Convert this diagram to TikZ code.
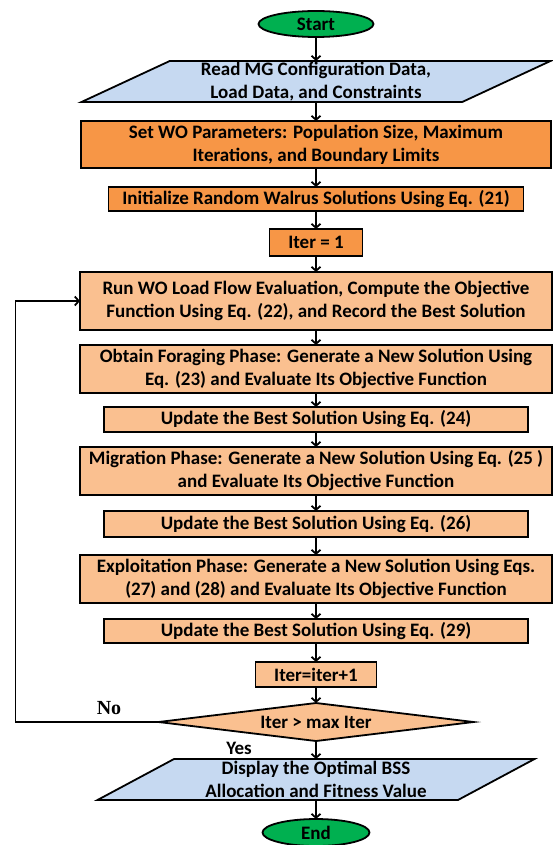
\documentclass[tikz,border=0pt]{standalone}
\usepackage{fontspec}
\setmainfont{Carlito}
\newfontfamily\labelserif{Liberation Serif}
\usetikzlibrary{arrows.meta,positioning,shapes.geometric}
\definecolor{termgreen}{HTML}{00B050}
\definecolor{ioblue}{HTML}{C6D9F1}
\definecolor{deeporange}{HTML}{F79646}
\definecolor{paleorange}{HTML}{FAC090}

\begin{document}
\begin{tikzpicture}[x=1pt, y=1pt, line width=1.8pt,
  every node/.style={font=\fontsize{19}{23}\selectfont\bfseries, outer sep=0pt},
  term/.style={draw, ellipse, fill=termgreen, inner sep=0pt},
  io/.style={draw, trapezium, trapezium stretches body=true, fill=ioblue, align=center, inner sep=0pt},
  proc/.style={draw, rectangle, fill=paleorange, align=center, inner sep=0pt},
  setup/.style={proc, fill=deeporange},
  arrow/.style={-{Straight Barb[length=4pt,width=9pt]}}]
  \useasboundingbox (0,0) rectangle (553,-845);

  \node[term, minimum width=115, minimum height=26] (start) at (316,-24) {Start};
  \node[io, trapezium left angle=23.8, trapezium right angle=156.2, minimum width=469, minimum height=41, below=24pt of start] (read) {Read MG Configuration Data,\\Load Data, and Constraints};
  \node[setup, minimum width=470, minimum height=47, below=19pt of read] (setwo) {Set WO Parameters: Population Size, Maximum\\Iterations, and Boundary Limits};
  \node[setup, minimum width=415, minimum height=24, below=19pt of setwo] (init) {Initialize Random Walrus Solutions Using Eq. (21)};
  \node[setup, minimum width=93, minimum height=27, below=18pt of init] (iterone) {Iter = 1};
  \node[proc, minimum width=472, minimum height=58, below=16pt of iterone] (run) {Run WO Load Flow Evaluation, Compute the Objective\\Function Using Eq. (22), and Record the Best Solution};
  \node[proc, minimum width=472, minimum height=48, below=15pt of run] (forage) {Obtain Foraging Phase: Generate a New Solution Using\\Eq. (23) and Evaluate Its Objective Function};
  \node[proc, minimum width=424, minimum height=25, below=14pt of forage] (bestA) {Update the Best Solution Using Eq. (24)};
  \node[proc, minimum width=472, minimum height=48, below=15pt of bestA] (migrate) {Migration Phase: Generate a New Solution Using Eq. (25 )\\and Evaluate Its Objective Function};
  \node[proc, minimum width=424, minimum height=26, below=16pt of migrate] (bestB) {Update the Best Solution Using Eq. (26)};
  \node[proc, minimum width=472, minimum height=48, below=18pt of bestB] (exploit) {Exploitation Phase: Generate a New Solution Using Eqs.\\(27) and (28) and Evaluate Its Objective Function};
  \node[proc, minimum width=424, minimum height=24, below=16pt of exploit] (bestC) {Update the Best Solution Using Eq. (29)};
  \node[proc, minimum width=121, minimum height=25, below=19pt of bestC] (iterinc) {Iter=iter+1};
  \node[draw, diamond, fill=paleorange, aspect=8, inner sep=0pt, minimum width=315, minimum height=38, below=16pt of iterinc] (cond) {Iter > max Iter};
  \node[io, trapezium left angle=25.5, trapezium right angle=154.5, minimum width=437, minimum height=41, below=18pt of cond] (show) {Display the Optimal BSS\\Allocation and Fitness Value};
  \node[term, minimum width=107, minimum height=27, below=19pt of show] (stop) {End};

  \node[font=\fontsize{20}{22}\selectfont\labelserif\bfseries] (no) at (109,-708) {No};
  \node (yes) at (239,-748) {Yes};
  \coordinate[left=143pt of cond.west] (back);

  \draw[arrow] (start) -- (read);
  \draw[arrow] (read) -- (setwo);
  \draw[arrow] (setwo) -- (init);
  \draw[arrow] (init) -- (iterone);
  \draw[arrow] (iterone) -- (run);
  \draw[arrow] (run) -- (forage);
  \draw[arrow] (forage) -- (bestA);
  \draw[arrow] (bestA) -- (migrate);
  \draw[arrow] (migrate) -- (bestB);
  \draw[arrow] (bestB) -- (exploit);
  \draw[arrow] (exploit) -- (bestC);
  \draw[arrow] (bestC) -- (iterinc);
  \draw[arrow] (iterinc) -- (cond);
  \draw[arrow] (cond) -- (show);
  \draw[arrow] (show) -- (stop);
  \draw[arrow] (cond.west) -- (back) |- (run.west);
\end{tikzpicture}
\end{document}
